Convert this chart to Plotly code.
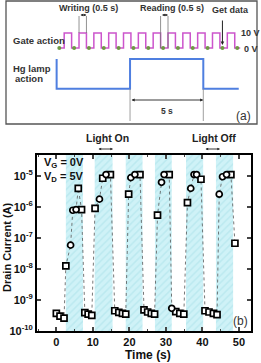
import plotly.graph_objects as go

W, H = 261, 363

# ---------------- panel (b) data ----------------
light_on = [2.6, 10.5, 19.0, 27.0, 35.5, 43.7]
light_off = [7.3, 15.4, 23.6, 31.6, 40.2, 48.4]

sq_t = [0.0, 1.0, 2.1, 2.6, 6.0, 6.9, 7.8, 8.7, 9.7, 10.6, 12.7, 14.8,
        16.0, 17.1, 18.1, 19.0, 19.8, 22.9, 24.0, 25.0, 26.0, 26.9, 27.7,
        30.9, 32.7, 33.8, 34.9, 35.9, 39.6, 40.7, 41.8, 43.0, 44.0, 47.8, 48.9]
sq_i = [3.7e-10, 3.0e-10, 2.6e-10, 1.26e-8, 4.0e-6, 8.3e-7, 3.9e-10, 3.5e-10,
        3.2e-10, 9.1e-7, 8.5e-6, 1.12e-5, 4.5e-10, 4.0e-10, 3.7e-10, 3.5e-10,
        2.6e-6, 1.12e-5, 4.8e-10, 4.1e-10, 3.7e-10, 3.5e-10, 5.5e-7, 1.12e-5,
        4.2e-10, 3.7e-10, 3.5e-10, 1.4e-6, 7.9e-6, 4.5e-10, 4.1e-10, 3.7e-10,
        3.4e-10, 1.12e-5, 6.8e-8]
ci_t = [3.9, 4.5, 5.4, 11.8, 13.6, 20.4, 21.5, 28.8, 29.5, 31.6, 36.8, 37.7,
        38.4, 44.6, 45.5, 46.6]
ci_i = [5.9e-8, 7.9e-7, 8.3e-7, 1.8e-6, 1.12e-5, 8.9e-6, 1.12e-5, 6.3e-6,
        1.12e-5, 5.4e-10, 4.0e-6, 1.12e-5, 1.12e-5, 2.6e-6, 9.5e-6, 1.12e-5]

x_ticks = [0, 10, 20, 30, 40, 50]
y_exps = [-10, -9, -8, -7, -6, -5]
x_range = [-5.3, 53.3]
y_log_range = [-10, -4.32]

# ---------------- panel (a) schematic ----------------
n_periods = 12
write_start = 0.33
write_len = 0.5
gate_end = 12.2
lamp_on_t = 4.77
lamp_off_t = 9.71
lamp_start = -0.18
lamp_end = 12.1
gate_low_px, gate_high_px = 48, 33
lamp_low_px, lamp_high_px = 88.7, 59
px_per_s = 14.83
t0_px = 59.3

fig = go.Figure()

def px2x(px):
    return px / W

def px2y(py):
    return 1 - py / H

FONT = "Liberation Sans, Arial, sans-serif"

# bands
ymin, ymax = 10 ** y_log_range[0], 10 ** y_log_range[1]
for a, b in zip(light_on, light_off):
    fig.add_trace(go.Scatter(
        x=[a, b, b, a, a], y=[ymin, ymin, ymax, ymax, ymin],
        mode="lines", fill="toself", line=dict(width=0),
        fillcolor="#cff2f7",
        fillpattern=dict(shape="/", bgcolor="#cff2f7", fgcolor="#a8dfe8",
                         size=5, solidity=0.3),
        hoverinfo="skip", showlegend=False, xaxis="x", yaxis="y"))

# connecting dashed line
pts = sorted(zip(sq_t + ci_t, sq_i + ci_i))
fig.add_trace(go.Scatter(
    x=[p[0] for p in pts], y=[p[1] for p in pts], mode="lines",
    line=dict(color="#555555", width=0.8, dash="dot"),
    showlegend=False, hoverinfo="skip"))

fig.add_trace(go.Scatter(
    x=sq_t, y=sq_i, mode="markers",
    marker=dict(symbol="square", size=6, color="white",
                line=dict(color="black", width=1.7)),
    showlegend=False))
fig.add_trace(go.Scatter(
    x=ci_t, y=ci_i, mode="markers",
    marker=dict(symbol="circle", size=6, color="white",
                line=dict(color="black", width=1.7)),
    showlegend=False))

# schematic gate wave
gx, gy = [0.0], [gate_low_px]
for k in range(n_periods):
    a = k + write_start
    b = a + write_len
    gx += [a, a, b, b]
    gy += [gate_low_px, gate_high_px, gate_high_px, gate_low_px]
gx.append(gate_end)
gy.append(gate_low_px)
fig.add_trace(go.Scatter(x=gx, y=gy, mode="lines",
                         line=dict(color="#cc55cc", width=1.5),
                         xaxis="x2", yaxis="y2", showlegend=False, hoverinfo="skip"))
fig.add_trace(go.Scatter(x=list(range(n_periods + 1)), y=[gate_low_px] * (n_periods + 1),
                         mode="markers", marker=dict(color="#6f9a45", size=4),
                         xaxis="x2", yaxis="y2", showlegend=False, hoverinfo="skip"))
# lamp
lx = [lamp_start, lamp_start, lamp_on_t, lamp_on_t, lamp_off_t, lamp_off_t, lamp_end]
ly = [lamp_high_px, lamp_low_px, lamp_low_px, lamp_high_px, lamp_high_px, lamp_low_px, lamp_low_px]
fig.add_trace(go.Scatter(x=lx, y=ly, mode="lines",
                         line=dict(color="#4f7fe0", width=2),
                         xaxis="x2", yaxis="y2", showlegend=False, hoverinfo="skip"))

shapes = []
annos = []
gray = "#333333"

# panel (a) border
shapes.append(dict(type="rect", xref="paper", yref="paper",
                   x0=px2x(6), x1=px2x(257), y0=px2y(124), y1=px2y(1),
                   line=dict(color="#555555", width=1.3)))

# writing marker lines
w_a = 1 + write_start
w_b = w_a + write_len
for xv in (w_a, w_b):
    shapes.append(dict(type="line", xref="x2", yref="y2", x0=xv, x1=xv, y0=16, y1=gate_high_px,
                       line=dict(color="#777777", width=0.8)))
r_a = 6 + write_start + write_len
r_b = r_a + (1 - write_len)
for xv in (r_a, r_b):
    shapes.append(dict(type="line", xref="x2", yref="y2", x0=xv, x1=xv, y0=16, y1=gate_low_px,
                       line=dict(color="#777777", width=0.8)))
# 5 s lines
for xv in (lamp_on_t, lamp_off_t):
    shapes.append(dict(type="line", xref="x2", yref="y2", x0=xv, x1=xv, y0=lamp_low_px, y1=121,
                       line=dict(color="#888888", width=0.8)))

def dbl_arrow(x0, x1, y, ref_x="x2", ref_y="y2", size=0.6, width=0.9):
    annos.append(dict(x=x1, y=y, ax=x0, ay=y, xref=ref_x, yref=ref_y,
                      axref=ref_x, ayref=ref_y, text="", showarrow=True,
                      arrowhead=2, arrowsize=size, arrowwidth=width,
                      arrowside="end+start", arrowcolor="#222222"))

dbl_arrow(w_a, w_b, 15)
dbl_arrow(r_a, r_b, 15)
dbl_arrow(lamp_on_t, lamp_off_t, 100, size=0.7)

# get data arrow
annos.append(dict(x=11, y=gate_low_px - 3, ax=11, ay=19, xref="x2", yref="y2",
                  axref="x2", ayref="y2", text="", showarrow=True, arrowhead=2,
                  arrowsize=0.7, arrowwidth=1, arrowcolor="#222222"))

def txt(text, px, py, size=9, xanchor="center", color=gray, bold=True, **kw):
    annos.append(dict(text=(f"<b>{text}</b>" if bold else text), x=px2x(px), y=px2y(py),
                      xref="paper", yref="paper", showarrow=False,
                      xanchor=xanchor, yanchor="middle",
                      font=dict(family=FONT, size=size, color=color), **kw))

txt("Writing (0.5 s)", 88, 8)
txt("Reading (0.5 s)", 172, 8)
txt("Get data", 230, 10)
txt("Gate action", 11, 40, size=9.5, xanchor="left")
txt("10 V", 239, 33, size=9, xanchor="left")
txt("0 V", 242, 49, size=9, xanchor="left")
txt("Hg lamp", 11, 68, size=9.5, xanchor="left")
txt("action", 13, 79, size=9.5, xanchor="left")
txt("5 s", 167, 111, size=8.5)
txt("(a)", 253, 116, size=12, xanchor="right", color="#333333", bold=False)

# panel (b) texts
txt("Light On", 107, 138, size=10.5, color="#222222")
txt("Light Off", 214, 138, size=10.5, color="#222222")
annos.append(dict(x=px2x(113), y=px2y(149), ax=-16, ay=0, xref="paper", yref="paper",
                  text="", showarrow=True, arrowhead=2, arrowsize=0.6, arrowwidth=0.9,
                  arrowside="end+start", arrowcolor="#222222"))
annos.append(dict(x=px2x(220), y=px2y(149), ax=-16, ay=0, xref="paper", yref="paper",
                  text="", showarrow=True, arrowhead=2, arrowsize=0.6, arrowwidth=0.9,
                  arrowside="end+start", arrowcolor="#222222"))
txt("V<sub>G</sub> = 0V", 42, 163, size=11, xanchor="left", color="#111111")
txt("V<sub>D</sub> = 5V", 42, 177, size=11, xanchor="left", color="#111111")
txt("(b)", 250, 321, size=12, xanchor="right", color="#333333", bold=False)
txt("Time (s)", 148, 355, size=12, color="#111111")
annos.append(dict(text="<b>Drain Current (A)</b>", x=px2x(7), y=px2y(247),
                  xref="paper", yref="paper", showarrow=False, textangle=-90,
                  xanchor="center", yanchor="middle",
                  font=dict(family=FONT, size=11, color="#111111")))

fig.update_layout(
    width=W, height=H, margin=dict(l=0, r=0, t=0, b=0),
    paper_bgcolor="white", plot_bgcolor="white",
    shapes=shapes, annotations=annos, showlegend=False,
    xaxis=dict(domain=[px2x(37), px2x(251)], range=x_range, anchor="y",
               tickvals=x_ticks, ticks="inside", ticklen=4, tickwidth=1.5,
               minor=dict(dtick=5, ticks="inside", ticklen=2, tickwidth=1),
               showline=True, linecolor="black", linewidth=2, mirror="ticks",
               showgrid=False, zeroline=False, automargin=False,
               tickfont=dict(family=FONT, size=11, color="#111111", weight="bold")),
    yaxis=dict(domain=[px2y(331), px2y(155)], type="log", range=y_log_range, anchor="x",
               tickvals=[10 ** e for e in y_exps],
               ticktext=[f"10<sup>{e}</sup>" for e in y_exps],
               ticks="inside", ticklen=4, tickwidth=1.5,
               showline=True, linecolor="black", linewidth=2, mirror="ticks",
               showgrid=False, zeroline=False, automargin=False,
               tickfont=dict(family=FONT, size=11, color="#111111", weight="bold")),
    xaxis2=dict(domain=[0, 1], range=[-t0_px / px_per_s, (W - t0_px) / px_per_s],
                anchor="y2", visible=False),
    yaxis2=dict(domain=[px2y(127), 1], range=[127, 0], anchor="x2", visible=False),
)

fig.write_html("out.html")
